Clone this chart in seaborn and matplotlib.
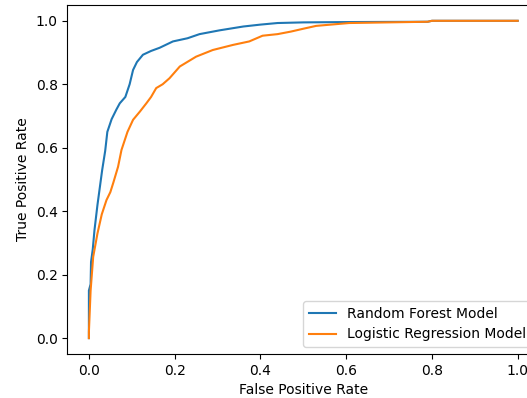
import matplotlib
matplotlib.use("Agg")
import matplotlib.pyplot as plt
import seaborn as sns
import pandas as pd

rf_fpr = [0.0, 0.0, 0.004, 0.005, 0.009, 0.013, 0.020, 0.026, 0.031, 0.038, 0.043, 0.053,
          0.064, 0.072, 0.085, 0.095, 0.103, 0.112, 0.126, 0.145, 0.165, 0.196, 0.23, 0.258,
          0.305, 0.36, 0.40, 0.44, 0.5, 0.6, 0.79, 0.8, 1.0]
rf_tpr = [0.0, 0.15, 0.17, 0.24, 0.28, 0.34, 0.42, 0.48, 0.53, 0.59, 0.65, 0.69,
          0.72, 0.74, 0.76, 0.80, 0.845, 0.87, 0.893, 0.905, 0.915, 0.935, 0.945, 0.958,
          0.97, 0.982, 0.988, 0.993, 0.995, 0.996, 0.997, 1.0, 1.0]

lr_fpr = [0.0, 0.0, 0.004, 0.010, 0.020, 0.030, 0.041, 0.050, 0.057, 0.068, 0.076, 0.090,
          0.103, 0.119, 0.134, 0.145, 0.157, 0.172, 0.188, 0.212, 0.25,
          0.289, 0.336, 0.374, 0.405, 0.44, 0.471, 0.50, 0.53, 0.607, 0.79, 0.8, 1.0]
lr_tpr = [0.0, 0.02, 0.15, 0.256, 0.33, 0.39, 0.435, 0.46, 0.49, 0.54, 0.593, 0.65,
          0.688, 0.714, 0.74, 0.76, 0.788, 0.80, 0.819, 0.856, 0.887,
          0.908, 0.924, 0.935, 0.953, 0.958, 0.966, 0.975, 0.984, 0.993, 0.997, 1.0, 1.0]

models = ["Random Forest Model", "Logistic Regression Model"]
colors = ["#1f77b4", "#ff7f0e"]

df = pd.concat([
    pd.DataFrame({"fpr": rf_fpr, "tpr": rf_tpr, "model": models[0]}),
    pd.DataFrame({"fpr": lr_fpr, "tpr": lr_tpr, "model": models[1]}),
], ignore_index=True)

fig = plt.figure(figsize=(5.27, 3.98), dpi=100)
ax = fig.add_axes([0.128, 0.1106, 0.895, 0.877])
sns.lineplot(data=df, x="fpr", y="tpr", hue="model", hue_order=models,
             palette=colors, estimator=None, sort=False, linewidth=1.5, ax=ax)
ax.set_xlim(-0.05, 1.05)
ax.set_ylim(-0.05, 1.05)
ax.set_xticks([0.0, 0.2, 0.4, 0.6, 0.8, 1.0])
ax.set_yticks([0.0, 0.2, 0.4, 0.6, 0.8, 1.0])
ax.set_xlabel("False Positive Rate")
ax.set_ylabel("True Positive Rate")
ax.legend(loc="lower right", title=None)
fig.savefig("out.png", dpi=100)
